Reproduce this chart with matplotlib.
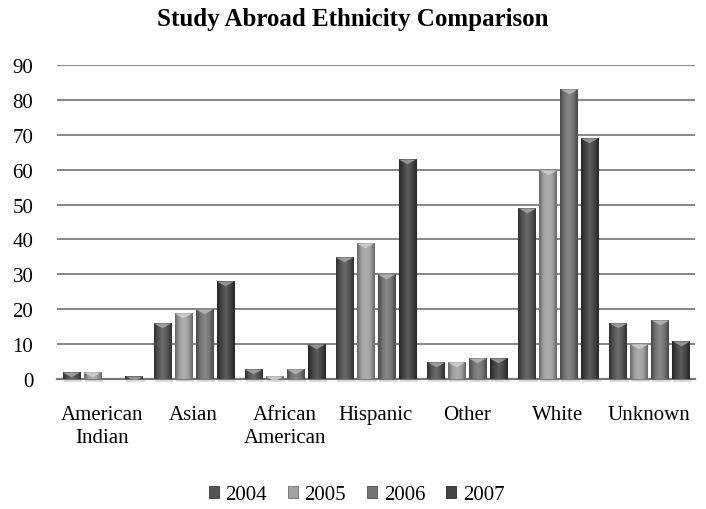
import numpy as np
import matplotlib
matplotlib.use("Agg")
import matplotlib.pyplot as plt
from matplotlib.path import Path
from matplotlib.patches import Patch
from matplotlib.colors import LinearSegmentedColormap, to_rgb

# ---- data ----
categories = ["American\nIndian", "Asian", "African\nAmerican", "Hispanic",
              "Other", "White", "Unknown"]
years = ["2004", "2005", "2006", "2007"]
v2004 = [2, 16, 3, 35, 5, 49, 16]
v2005 = [2, 19, 1, 39, 5, 60, 10]
v2006 = [0, 20, 3, 30, 6, 83, 17]
v2007 = [1, 28, 10, 63, 6, 69, 11]
series = [v2004, v2005, v2006, v2007]
y_ticks = [0, 10, 20, 30, 40, 50, 60, 70, 80, 90]

colors = ["#4b4b4b", "#9c9c9c", "#6d6d6d", "#3a3a3a"]

plt.rcParams["font.family"] = ["Liberation Serif", "DejaVu Serif"]
FS = 15

fig = plt.figure(figsize=(7.06, 5.10), dpi=100)
ax = fig.add_axes([0.0807, 0.2549, 0.9033, 0.6157])

x = np.arange(len(categories))
pitch = 0.23
width = 0.187
offsets = (np.arange(len(years)) - 1.5) * pitch


def shade(c, f):
    r = np.array(to_rgb(c))
    if f >= 0:
        return tuple(r + (1 - r) * f)
    return tuple(r * (1 + f))


def bar_cmap(c):
    return LinearSegmentedColormap.from_list(
        "b", [shade(c, -0.35), shade(c, 0.05), shade(c, 0.18),
              shade(c, 0.05), shade(c, -0.35)])


# triangular cap hanging below the bar top
cap = Path([(-1.0, 0.0), (1.0, 0.0), (0.0, -0.55), (-1.0, 0.0)],
           [Path.MOVETO, Path.LINETO, Path.LINETO, Path.CLOSEPOLY])

grad = np.linspace(0, 1, 64).reshape(1, -1)

for i, vals in enumerate(series):
    xs = x + offsets[i]
    # soft shadow below the baseline
    ax.bar(xs + 0.02, [0.9 if v > 0 else 0 for v in vals], width=width * 1.1,
           bottom=-0.9, color="#d8d8d8", alpha=0.8, zorder=2, clip_on=False)
    bars = ax.bar(xs, vals, width=width, color=colors[i],
                  edgecolor=shade(colors[i], -0.3), linewidth=0.6, zorder=3)
    cm = bar_cmap(colors[i])
    for b, v in zip(bars, vals):
        if v <= 0:
            continue
        x0 = b.get_x()
        im = ax.imshow(grad, cmap=cm, aspect="auto", zorder=3.5,
                       extent=[x0, x0 + b.get_width(), 0, v],
                       interpolation="bicubic")
        im.set_clip_path(b)
    ax.plot([xx for xx, v in zip(xs, vals) if v > 0],
            [v for v in vals if v > 0], linestyle="none", marker=cap,
            markersize=12.5, markerfacecolor=shade(colors[i], 0.45),
            markeredgewidth=0, zorder=4)

ax.set_xlim(-0.5, len(categories) - 0.5)
ax.set_ylim(0, 90)
ax.set_yticks(y_ticks)
ax.set_yticklabels([str(t) for t in y_ticks], fontsize=FS)
ax.set_xticks(x)
ax.set_xticklabels(categories, fontsize=FS, linespacing=1.32)
ax.tick_params(axis="y", length=0, pad=17)
ax.tick_params(axis="x", length=0, pad=18.5)
ax.grid(axis="y", color="#868686", linewidth=1.4, zorder=0)
ax.set_axisbelow(True)
for s in ["top", "right", "left"]:
    ax.spines[s].set_visible(False)
ax.spines["bottom"].set_color("#777777")
ax.spines["bottom"].set_linewidth(1.6)
ax.spines["bottom"].set_zorder(2.5)

fig.text(0.5, 0.962, "Study Abroad Ethnicity Comparison", ha="center",
         va="center", fontsize=18, fontweight="bold")

handles = [Patch(facecolor=shade(c, 0.05), edgecolor=shade(c, -0.3),
                 linewidth=0.6) for c in colors]
fig.legend(handles, years, loc="center", bbox_to_anchor=(0.505, 1 - 496 / 510),
           ncol=4, frameon=False, fontsize=FS,
           handlelength=0.5, handleheight=0.5, handletextpad=0.3,
           columnspacing=1.0)

fig.savefig("out.png", dpi=100)
